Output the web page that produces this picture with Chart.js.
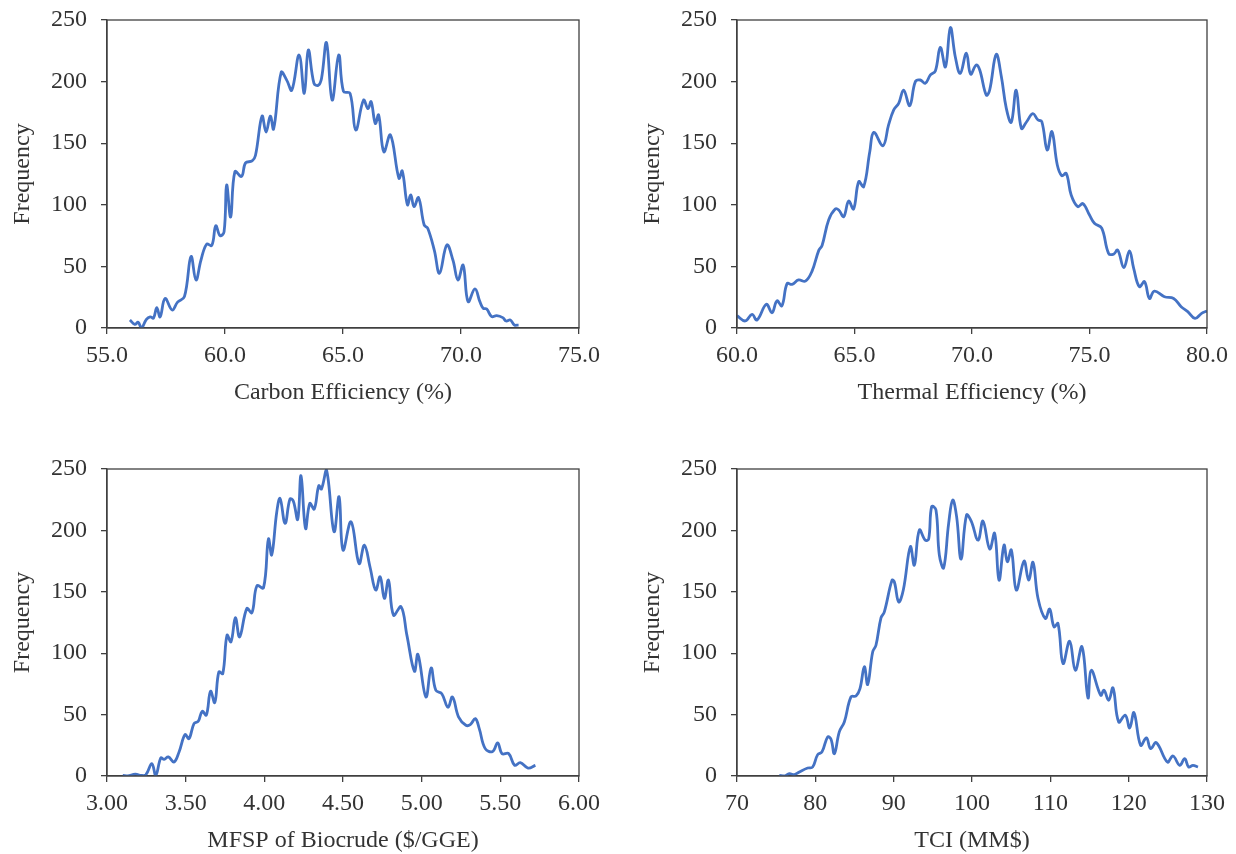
<!DOCTYPE html>
<html>
<head>
<meta charset="utf-8">
<script src="https://cdn.jsdelivr.net/npm/chart.js@4.4.1/dist/chart.umd.min.js"></script>
<style>
  html, body { margin: 0; padding: 0; background: #ffffff; overflow: hidden; }
  body { width: 1236px; height: 854px; position: relative; }
  .panel { position: absolute; }
  .panel canvas { display: block; }
</style>
</head>
<body>
<div class="panel" id="p1" style="left:0px;top:0px;width:602px;height:408px;"><canvas id="c1"></canvas></div>
<div class="panel" id="p2" style="left:630px;top:0px;width:600px;height:408px;"><canvas id="c2"></canvas></div>
<div class="panel" id="p3" style="left:0px;top:440px;width:602px;height:416px;"><canvas id="c3"></canvas></div>
<div class="panel" id="p4" style="left:630px;top:440px;width:600px;height:416px;"><canvas id="c4"></canvas></div>
<script>
// ---------------- DATA ----------------
const yTitle = "Frequency";
const xTitles = ["Carbon Efficiency (%)", "Thermal Efficiency (%)", "MFSP of Biocrude ($/GGE)", "TCI (MM$)"];

// Carbon efficiency (%)
const carbonX = [55.97,56.18,56.32,56.46,56.67,56.83,56.97,57.11,57.25,57.46,57.76,57.99,58.28,58.56,58.77,58.98,59.22,59.44,59.61,59.79,59.96,60.07,60.24,60.42,60.70,60.87,61.15,61.29,61.57,61.74,61.92,62.06,62.38,62.62,62.83,63.14,63.36,63.53,63.77,63.95,64.09,64.30,64.54,64.82,65.02,65.30,65.54,65.87,66.06,66.19,66.37,66.51,66.73,67.01,67.37,67.51,67.73,67.87,68.01,68.20,68.44,68.59,68.87,69.09,69.40,69.66,69.87,70.09,70.30,70.59,70.80,70.94,71.09,71.30,71.51,71.77,71.91,72.09,72.26,72.44];
const carbonFreq = [6.5,3,4.6,0,7,9,8,16.5,9,24,14.6,21,25.4,58,39,55,68,67,83,75,78,116,90,127,123,134,135.6,140,172,159,172,161.5,207.5,201,193,221.6,190.5,225.6,198.6,197,202.6,231.6,185,221.6,192,190.5,160.7,185,178,183.7,166,173,143,156.7,121.5,127.4,100,108,98.5,105.8,83.6,81,63,44.4,67.4,55,39,51,21.4,31.7,21.4,16,15.4,9.2,10,8.4,5.7,6.5,2.4,2.4];

// Thermal efficiency (%)
const thermalX = [60.00,60.35,60.64,60.85,61.25,61.49,61.70,61.91,62.13,62.34,62.62,62.91,63.19,63.48,63.62,63.90,64.18,64.33,64.54,64.75,64.96,65.18,65.39,65.65,65.82,66.21,66.45,66.67,66.88,67.09,67.35,67.59,67.80,68.01,68.23,68.44,68.65,68.87,69.08,69.29,69.50,69.76,69.94,70.18,70.33,70.61,70.75,71.03,71.25,71.46,71.67,71.88,72.10,72.31,72.59,72.80,72.97,73.20,73.40,73.63,73.82,74.01,74.22,74.50,74.72,75.00,75.21,75.52,75.81,76.03,76.20,76.46,76.70,76.88,77.12,77.34,77.55,77.76,78.19,78.58,78.90,79.18,79.49,79.77,80.00];
const thermalFreq = [10,5.7,11,6.5,19.2,12.4,22,18,36,35.4,39,38,46,63,67,87.7,96.6,95.8,90.4,103,96.6,118.8,114.7,143,158.8,148,164.8,177,182.4,193,180.5,200,201.3,198.6,205.4,208.6,227.8,212,243.8,220,206.7,223,206,213.5,209.4,189,193,222,204,178.3,167,193,162,167,174,169,167.5,144.5,159.4,132.3,123.6,125.5,108,98.5,101,91.7,85,81,60.6,60,63.3,49,62.5,48.4,33.5,37.6,24,30,25.4,24,17.3,13.3,7.8,11.9,13.8];

// MFSP of biocrude ($/GGE)
const mfspX = [3.100,3.132,3.180,3.216,3.247,3.285,3.310,3.342,3.363,3.390,3.426,3.458,3.496,3.521,3.553,3.580,3.605,3.631,3.658,3.685,3.711,3.736,3.763,3.788,3.816,3.843,3.889,3.921,3.953,3.995,4.026,4.047,4.079,4.100,4.132,4.163,4.184,4.212,4.233,4.262,4.289,4.317,4.346,4.363,4.395,4.443,4.475,4.500,4.551,4.602,4.636,4.672,4.708,4.736,4.763,4.789,4.821,4.869,4.906,4.954,4.976,5.027,5.060,5.090,5.128,5.167,5.196,5.235,5.281,5.309,5.341,5.366,5.404,5.451,5.483,5.511,5.553,5.591,5.627,5.676,5.723];
const mfspFreq = [0.5,0,1.6,0.5,1,10,0.5,14.7,13.6,15.5,11.4,19.6,33.7,30.4,42.7,44.6,52.7,49.5,69,59.8,84.8,83.4,114.7,109.2,128.8,113.3,136.4,132.9,154.9,153.3,193,180,215,226,205.7,225.5,224,209,244.6,201.6,222,217.4,236.4,233.7,249.2,199,227.4,184,207,173,188,170,151.4,162.2,144.6,159.5,131,137.8,114.7,85.3,99,64.4,88,69.8,67,56,64.4,48,41.3,41.8,46.7,38.6,22.3,20,27,18.2,18.2,8.7,10.9,6.5,8.7];

// TCI (MM$)
const tciX = [75.40,76.04,76.68,77.32,77.96,79.02,79.66,80.30,80.85,81.57,82.00,82.43,83.06,83.70,84.55,85.19,85.70,86.26,86.68,87.32,87.74,88.38,88.81,89.79,90.09,90.64,91.23,92.13,92.64,93.28,94.04,94.47,94.85,95.40,95.83,96.38,97.02,97.53,98.04,98.60,99.30,99.90,100.77,101.40,102.26,102.89,103.45,104.09,104.51,105.02,105.66,106.64,107.23,107.79,108.43,109.36,109.91,110.47,110.98,111.62,112.47,113.19,114.04,114.81,115.23,116.43,116.85,117.45,118.00,118.72,119.57,120.13,120.68,121.53,122.26,122.81,123.53,124.94,125.66,126.51,127.15,127.66,128.21,128.85];
const tciFreq = [0.5,0,1.9,1.1,3.3,6.5,7.3,17.4,19.6,31.8,30,18.2,35.9,44,64.4,65.2,71.2,88.9,74.5,101,106.5,128.8,133.7,159.5,158,141.8,151.4,186.7,171.7,200.3,192,193,219.3,216.6,180,169.6,205.7,224.7,211,176.6,212.5,207.6,192,207.6,184.8,197.6,159.5,188,174.5,184,151.4,175,159.5,174,144.6,128.3,135.9,121.5,124.2,91.6,109.8,86.1,105.2,63.6,86.1,65.8,69.8,61.7,71.7,44,49.5,39.1,51.6,25,31,22.3,27.2,11.4,16.3,8.7,14.1,7.3,8.7,7.3];

// Axis ranges / tick settings
const xMins = [55, 60, 3, 70];
const xMaxs = [75, 80, 6, 130];
const xSteps = [5, 5, 0.5, 10];
const xDecimals = [1, 1, 2, 0];
const yMin = 0, yMax = 250, yStep = 50;

// ---------------- STYLE ----------------
const FONT = "'Liberation Serif', 'Times New Roman', Times, serif";
const AXIS = '#404040';
const TEXT = '#333333';
const LINE = '#4472C4';

const boxPlugin = {
  id: 'plotBox',
  afterDraw(chart) {
    const a = chart.chartArea, ctx = chart.ctx;
    ctx.save();
    ctx.strokeStyle = AXIS;
    ctx.lineWidth = 1.3;
    ctx.strokeRect(a.left, a.top, a.right - a.left, a.bottom - a.top);
    ctx.restore();
  }
};

function build(canvasId, xs, ys, idx, topPad, rightPad) {
  const pts = xs.map((x, i) => ({ x: x, y: ys[i] }));
  return new Chart(document.getElementById(canvasId), {
    type: 'line',
    data: { datasets: [{ data: pts, borderColor: LINE, borderWidth: 2.8, pointRadius: 0, tension: 0.4, fill: false }] },
    options: {
      responsive: true,
      maintainAspectRatio: false,
      animation: false,
      events: [],
      layout: { padding: { top: topPad, right: rightPad, left: 0, bottom: 0 } },
      plugins: { legend: { display: false }, tooltip: { enabled: false } },
      scales: {
        x: {
          type: 'linear',
          min: xMins[idx], max: xMaxs[idx],
          afterFit: s => { s.height = 80; s.paddingLeft = 0; s.paddingRight = 0; },
          border: { display: true, color: AXIS, width: 1.3 },
          grid: { drawOnChartArea: false, drawTicks: true, tickLength: 6, color: AXIS, lineWidth: 1.3 },
          ticks: {
            stepSize: xSteps[idx], maxRotation: 0, autoSkip: false, padding: 7,
            color: TEXT, font: { family: FONT, size: 24 },
            callback: v => Number(v).toFixed(xDecimals[idx])
          },
          title: { display: true, text: xTitles[idx], color: TEXT, font: { family: FONT, size: 24 }, padding: { top: 0, bottom: 1 } }
        },
        y: {
          min: yMin, max: yMax,
          afterFit: s => { s.width = 107; s.paddingTop = 0; s.paddingBottom = 0; },
          border: { display: true, color: AXIS, width: 1.3 },
          grid: { drawOnChartArea: false, drawTicks: true, tickLength: 6, color: AXIS, lineWidth: 1.3 },
          ticks: { stepSize: yStep, padding: 14, color: TEXT, font: { family: FONT, size: 24 } },
          title: { display: true, text: yTitle, color: TEXT, font: { family: FONT, size: 24 }, padding: { top: 8.6, bottom: 0 } }
        }
      }
    },
    plugins: [boxPlugin]
  });
}

build('c1', carbonX, carbonFreq, 0, 20, 23);
build('c2', thermalX, thermalFreq, 1, 20, 23);
build('c3', mfspX, mfspFreq, 2, 29, 23);
build('c4', tciX, tciFreq, 3, 29, 23);
</script>
</body>
</html>
